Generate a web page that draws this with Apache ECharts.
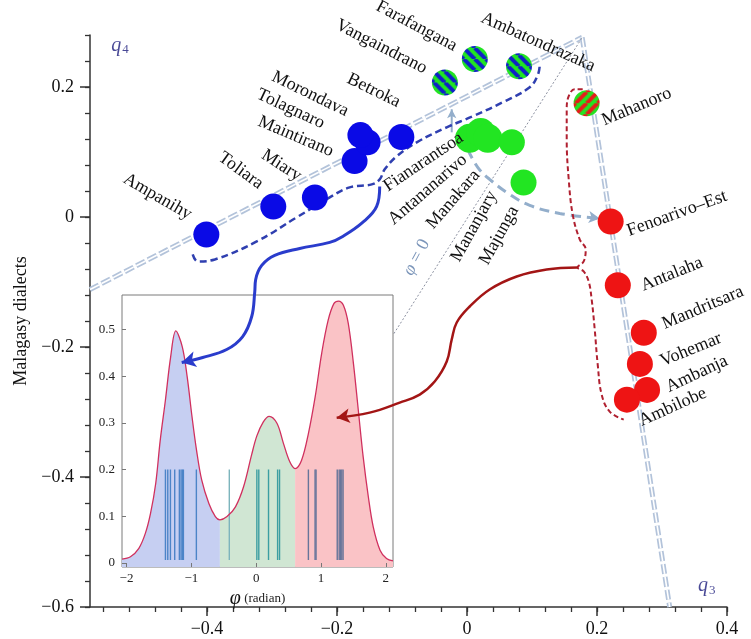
<!DOCTYPE html>
<html><head><meta charset="utf-8">
<script src="https://cdn.jsdelivr.net/npm/echarts@6/dist/echarts.min.js"></script>
<style>html,body{margin:0;padding:0;background:#fff}#c{width:751px;height:639px}</style>
</head><body><div id="c"></div>
<script>
// ---------------- DATA ----------------
const dialects = ['Ampanihy','Toliara','Miary','Maintirano','Tolagnaro','Morondava','Betroka',
  'Fianarantsoa','Antananarivo','Manakara','Mananjary','Majunga',
  'Vangaindrano','Farafangana','Ambatondrazaka','Mahanoro',
  'Fenoarivo–Est','Antalaha','Mandritsara','Vohemar','Ambanja','Ambilobe'];
const dimX = [-0.401,-0.298,-0.234,-0.173,-0.153,-0.164,-0.101,
  0.004,0.021,0.032,0.069,0.087,
  -0.034,0.012,0.080,0.184,
  0.221,0.232,0.272,0.266,0.277,0.246];
const dimY = [-0.027,0.016,0.030,0.086,0.115,0.126,0.123,
  0.121,0.130,0.121,0.115,0.053,
  0.207,0.243,0.232,0.175,
  -0.007,-0.105,-0.178,-0.226,-0.266,-0.281];
const groups = ['W','W','W','W','W','W','W','C','C','C','C','C','WC','WC','WC','EC','E','E','E','E','E','E'];

const xTickLabels = [-0.4,-0.2,0,0.2,0.4];
const yTickLabels = [-0.6,-0.4,-0.2,0,0.2];
const insetXTickLabels = [-2,-1,0,1,2];
const insetYTickLabels = [0,0.1,0.2,0.3,0.4,0.5];

// kernel density of phi
const phiGrid = [-2.07,-1.94,-1.81,-1.71,-1.63,-1.55,-1.48,-1.40,-1.32,-1.24,-1.14,-1.065,-0.99,-0.92,-0.84,-0.73,-0.63,-0.56,
  -0.45,-0.32,-0.195,-0.07,0.01,0.11,0.20,0.32,0.42,0.52,0.60,
  0.70,0.805,0.91,1.01,1.11,1.20,1.27,1.345,1.42,1.50,1.575,1.65,1.73,1.805,1.91,2.01,2.11];
const density = [0.008,0.013,0.031,0.063,0.106,0.170,0.263,0.349,0.441,0.497,0.463,0.399,0.313,0.241,0.177,0.127,0.099,0.092,
  0.099,0.120,0.163,0.232,0.272,0.302,0.314,0.299,0.256,0.216,0.202,
  0.220,0.277,0.356,0.449,0.520,0.556,0.561,0.552,0.513,0.427,0.327,0.227,0.141,0.077,0.027,0.009,0.004];
const westEdge = -0.56, eastEdge = 0.60;
const rugWest = [-1.40,-1.364,-1.323,-1.257,-1.185,-1.159,-1.138,-1.123,-0.923];
const rugCentral = [-0.415,0.01,0.04,0.19,0.33,0.36];
const rugEast = [0.805,0.908,0.923,1.25,1.28,1.30,1.32,1.34];

// axes of the projection and annotation paths (data units)
const q4Axis = [[-0.58,-0.1115],[0.1772,0.2765]];
const q3Axis = [[0.1772,0.2765],[0.3118,-0.6]];
const phiZeroLine = [[0.1765,0.275],[-0.1143,-0.1823]];
const westHull = [[-0.422,-0.0576],[-0.4143,-0.0684],[-0.3881,-0.0653],[-0.3235,-0.0376],[-0.262,-0.0006],[-0.2112,0.0302],
  [-0.1805,0.0456],[-0.1466,0.0502],[-0.1343,0.0579],[-0.1266,0.0733],[-0.1082,0.0934],[-0.0774,0.1149],[-0.0312,0.138],
  [0.0088,0.1549],[0.0549,0.1765],[0.0965,0.1996],[0.1088,0.2181],[0.1118,0.232]];
const westArrow = [[-0.1343,0.0471],[-0.139,0.0163],[-0.1605,-0.0083],[-0.1912,-0.0299],[-0.2112,-0.0391],[-0.2574,-0.0484],
  [-0.2958,-0.0591],[-0.3158,-0.0745],[-0.3251,-0.0961],[-0.3266,-0.1161],[-0.3312,-0.1531],[-0.3451,-0.1839],
  [-0.3697,-0.2039],[-0.4066,-0.2162],[-0.4389,-0.2239]];
const eastBrace = [[0.178,0.1965],[0.1657,0.1965],[0.1565,0.1858],[0.1534,0.1657],[0.1534,0.1195],[0.1565,0.0579],
  [0.1626,0.004],[0.1734,-0.0345],[0.1826,-0.0499],[0.1795,-0.0684],[0.1703,-0.0776],[0.1795,-0.0838],[0.1872,-0.0992],
  [0.1918,-0.1269],[0.1965,-0.1731],[0.2011,-0.227],[0.2072,-0.2732],[0.2195,-0.2994],[0.2411,-0.3117]];
const eastArrow = [[0.1703,-0.0776],[0.1226,-0.0807],[0.0765,-0.0915],[0.0349,-0.1115],[0.0042,-0.1377],[-0.0158,-0.1623],
  [-0.0235,-0.1885],[-0.0312,-0.2224],[-0.0497,-0.2532],[-0.0728,-0.2732],[-0.1035,-0.2856],[-0.1497,-0.301],[-0.2005,-0.3087]];
const rotationArrow = [[0.0011,0.1041],[0.0165,0.0764],[0.0349,0.0579],[0.0657,0.0348],[0.0965,0.0179],[0.1426,0.0055],[0.2042,-0.0022]];
const upArrow = [[-0.0235,0.1303],[-0.0235,0.1657]];
const annotations = [
  {text:'q4', at:[-0.534,0.264]},
  {text:'q3', at:[0.369,-0.5675]},
  {text:'φ = 0', at:[-0.0774,-0.0622]}
];

// ---------------- STYLE / LAYOUT ----------------
const SERIF = '"Liberation Serif","DejaVu Serif",serif';
// [rotate, align, dx, dy]  (dx, dy = screen offset of the label anchor from the marker centre)
const labelLayout = {
  'Ampanihy':[-30,'right',-16,-19], 'Toliara':[-36,'right',-12,-21], 'Miary':[-33,'right',-15,-20],
  'Maintirano':[-23,'right',-22,-9], 'Tolagnaro':[-25,'right',-44,-18], 'Morondava':[-26,'right',-13,-23],
  'Betroka':[-26,'right',-2,-34], 'Fianarantsoa':[34,'right',-8,-2], 'Antananarivo':[41,'right',-16,25],
  'Manakara':[49,'right',-11,34], 'Mananjary':[61,'right',-19,50], 'Majunga':[61,'right',-9,25],
  'Vangaindrano':[-27,'right',-19,-13], 'Farafangana':[-28,'right',-19,-12], 'Ambatondrazaka':[-24,'left',-37,-49],
  'Mahanoro':[23,'left',16,18], 'Fenoarivo–Est':[20,'left',17,10], 'Antalaha':[22,'left',24,1],
  'Mandritsara':[23,'left',19,-8], 'Vohemar':[22,'left',21,-2], 'Ambanja':[25,'left',20,-2], 'Ambilobe':[24,'left',13,22]
};
const annotRotate = {'q4':0, 'q3':0, 'φ = 0':62};
function unrotate(r, dx, dy) {
  const t = r * Math.PI / 180;
  return [dx*Math.cos(t) - dy*Math.sin(t), dx*Math.sin(t) + dy*Math.cos(t)];
}
function stripes(c1, c2, dir, symSize) {
  const s = 11, cv = document.createElement('canvas'); cv.width = s; cv.height = s;
  const g = cv.getContext('2d'); g.fillStyle = c1; g.fillRect(0,0,s,s);
  g.strokeStyle = c2; g.lineWidth = 4;
  for (let k = -1; k <= 1; k++) {
    g.beginPath();
    if (dir > 0) { g.moveTo(k*s, s); g.lineTo(k*s + s, 0); }
    else { g.moveTo(k*s, 0); g.lineTo(k*s + s, s); }
    g.stroke();
  }
  const k = 2 / symSize;
  return {image: cv, repeat: 'repeat', scaleX: k, scaleY: k};
}
const groupColor = {
  W: '#0a0ae6', C: '#22e522', E: '#ee1414',
  WC: stripes('#22e522', '#1020c8', -1, 26), EC: stripes('#22e522', '#e81c1c', 1, 26)
};
const bigSize = {Fianarantsoa:29, Antananarivo:29, Manakara:29};

function fmt(v) { return v === 0 ? '0' : (v < 0 ? '−' : '') + String(Math.abs(v)); }
function steps(a, b, st) { const r = []; for (let i = Math.round(a/st); i <= Math.round(b/st); i++) r.push(+(i*st).toFixed(4)); return r; }

const X0 = -0.58, X1 = 0.4, Y0 = -0.6, Y1 = 0.28;

function curve(pts, o) {
  const data = pts.map(p => ({value: p}));
  if (o.arrow) {
    const a = pts[pts.length-2], b = pts[pts.length-1];
    const ang = Math.atan2((b[1]-a[1]), (b[0]-a[0])) * 180 / Math.PI;
    data[data.length-1] = {value: b, symbol: 'arrow', symbolSize: o.arrow, symbolRotate: ang - 90,
      itemStyle: {color: o.color}};
  }
  return {type:'line', xAxisIndex:0, yAxisIndex:0, data, smooth: o.smooth == null ? 0.4 : o.smooth,
    symbol:'none', showSymbol:true, showAllSymbol:true, silent:true, clip:false, z: o.z || 2,
    lineStyle:{color:o.color, width:o.width, type:o.type || 'solid', cap:'butt'}};
}

const pointData = dialects.map((n,i) => {
  const L = labelLayout[n];
  return {name:n, value:[dimX[i], dimY[i]], symbolSize: bigSize[n] || 26,
    itemStyle:{color: groupColor[groups[i]]},
    label:{show:true, position:'inside', rotate:L[0], align:L[1], verticalAlign:'middle', offset: unrotate(L[0], L[2], L[3])}};
});

function segment(lo, hi) {
  const d = [];
  phiGrid.forEach((p,i) => { if (p >= lo - 1e-9 && p <= hi + 1e-9) d.push([p, density[i]]); });
  return d;
}
const fullDensity = phiGrid.map((p,i) => [p, density[i]]);
const rugData = [].concat(rugWest.map(v=>[v,0]), rugCentral.map((v,i)=>[v, i===0?3:1]), rugEast.map(v=>[v,2]));
const rugColors = ['#4c84c8', '#3c9ea2', '#67759a', '#7db4bc'];

const axisText = {fontFamily: SERIF, fontSize: 18, color: '#111'};

const option = {
  animation: false,
  backgroundColor: '#fff',
  grid: [
    {left: 90, top: 35, width: 637, height: 572},
    {left: 122, top: 295, width: 271, height: 272, show: true, backgroundColor: '#fff', borderColor: '#7a7a7a', borderWidth: 1, z: 5}
  ],
  xAxis: [
    {gridIndex:0, type:'value', position:'bottom', min:X0, max:X1,
      axisLine:{onZero:false, lineStyle:{color:'#333', width:1.5}},
      axisTick:{customValues: xTickLabels, length:9, lineStyle:{color:'#333', width:1.5}},
      axisLabel:{customValues: xTickLabels, formatter: fmt, margin:13, ...axisText},
      splitLine:{show:false}},
    {gridIndex:0, type:'value', position:'bottom', min:X0, max:X1,
      axisLine:{show:false, onZero:false},
      axisTick:{customValues: steps(-0.56, 0.4, 0.04), length:5, lineStyle:{color:'#333', width:1.3}},
      axisLabel:{show:false}, splitLine:{show:false}},
    {gridIndex:1, type:'value', position:'bottom', min:-2.07, max:2.11, z:6,
      axisLine:{show:false, onZero:false},
      axisTick:{customValues: insetXTickLabels, inside:true, length:4, lineStyle:{color:'#777'}},
      axisLabel:{customValues: insetXTickLabels, formatter: fmt, margin:5, fontFamily:SERIF, fontSize:13, color:'#222'},
      splitLine:{show:false},
      name:'{p|φ} {r|(radian)}', nameLocation:'middle', nameGap:22,
      nameTextStyle:{rich:{p:{fontFamily:SERIF, fontStyle:'italic', fontSize:20, color:'#111'},
                           r:{fontFamily:SERIF, fontSize:13, color:'#222'}}}}
  ],
  yAxis: [
    {gridIndex:0, type:'value', position:'left', min:Y0, max:Y1,
      axisLine:{onZero:false, lineStyle:{color:'#333', width:1.5}},
      axisTick:{customValues: yTickLabels, length:10, lineStyle:{color:'#333', width:1.5}},
      axisLabel:{customValues: yTickLabels, formatter: fmt, margin:16, ...axisText},
      splitLine:{show:false},
      name:'Malagasy dialects', nameLocation:'middle', nameGap:58, nameRotate:90,
      nameTextStyle:{fontFamily:SERIF, fontSize:18, color:'#111'}},
    {gridIndex:0, type:'value', position:'left', min:Y0, max:Y1,
      axisLine:{show:false, onZero:false},
      axisTick:{customValues: steps(-0.6, 0.28, 0.04), length:5, lineStyle:{color:'#333', width:1.3}},
      axisLabel:{show:false}, splitLine:{show:false}},
    {gridIndex:1, type:'value', position:'left', min:-0.009, max:0.574, z:6,
      axisLine:{show:false, onZero:false},
      axisTick:{customValues: insetYTickLabels, inside:true, length:4, lineStyle:{color:'#777'}},
      axisLabel:{customValues: insetYTickLabels, formatter: fmt, margin:7, fontFamily:SERIF, fontSize:13, color:'#222'},
      splitLine:{show:false}}
  ],
  series: [
    curve(q4Axis, {color:'#b3c3da', width:5, type:[10,3], smooth:0}),
    curve(q4Axis, {color:'#ffffff', width:1.6, type:[10,3], smooth:0}),
    curve(q3Axis, {color:'#b3c3da', width:5, type:[10,3], smooth:0}),
    curve(q3Axis, {color:'#ffffff', width:1.6, type:[10,3], smooth:0}),
    curve(phiZeroLine, {color:'#8b90a0', width:1, type:[2,2], smooth:0}),
    curve(rotationArrow, {color:'#93aecb', width:3, type:[10,6], arrow:[9,11], smooth:0.4}),
    curve(upArrow, {color:'#93aecb', width:2, smooth:0, arrow:[7,9]}),
    curve(westHull, {color:'#2f3fb0', width:2.5, type:[7,4], smooth:0.4}),
    curve(eastBrace, {color:'#b02030', width:2, type:[5,3], smooth:0.4}),
    {type:'scatter', xAxisIndex:0, yAxisIndex:0, z:3, data: pointData,
      itemStyle:{opacity:1},
      label:{formatter:'{b}', fontFamily:SERIF, fontSize:18, color:'#111'}},
    {type:'scatter', xAxisIndex:0, yAxisIndex:0, z:3, clip:false, symbolSize:1,
      itemStyle:{color:'rgba(0,0,0,0)'},
      data: annotations.map(a => ({name:a.text, value:a.at, label:{rotate: annotRotate[a.text]}})),
      label:{show:true, position:'inside',
        formatter: p => p.name === 'q4' ? '{q|q}{s|4}' : p.name === 'q3' ? '{q|q}{s|3}' : '{f|φ}{g| = 0}',
        rich:{q:{fontFamily:SERIF, fontStyle:'italic', fontSize:20, color:'#1c1c7c'},
              s:{fontFamily:SERIF, fontSize:13, color:'#1c1c7c', padding:[9,0,0,1]},
              f:{fontFamily:SERIF, fontStyle:'italic', fontSize:18, color:'#5a7aa8'},
              g:{fontFamily:SERIF, fontSize:18, color:'#5a7aa8'}}}},
    {type:'line', xAxisIndex:2, yAxisIndex:2, z:6, data: segment(-3, westEdge), smooth:0.35, symbol:'none',
      lineStyle:{width:0}, areaStyle:{color:'#c6cff2', opacity:1, origin:'start'}},
    {type:'line', xAxisIndex:2, yAxisIndex:2, z:6, data: segment(westEdge, eastEdge), smooth:0.35, symbol:'none',
      lineStyle:{width:0}, areaStyle:{color:'#d0e6d3', opacity:1, origin:'start'}},
    {type:'line', xAxisIndex:2, yAxisIndex:2, z:6, data: segment(eastEdge, 3), smooth:0.35, symbol:'none',
      lineStyle:{width:0}, areaStyle:{color:'#fac3c6', opacity:1, origin:'start'}},
    {type:'custom', xAxisIndex:2, yAxisIndex:2, z:7, data: rugData,
      renderItem: (params, api) => {
        const x = api.value(0);
        const a = api.coord([x, 0.006]), b = api.coord([x, 0.2]);
        return {type:'line', shape:{x1:a[0], y1:a[1], x2:b[0], y2:b[1]},
          style:{stroke: rugColors[api.value(1)], lineWidth:1.4}};
      }},
    {type:'line', xAxisIndex:2, yAxisIndex:2, z:8, data: fullDensity, smooth:0.35, symbol:'none',
      lineStyle:{color:'#d0305e', width:1.3}},
    curve(westArrow, {color:'#2a3ccc', width:3, arrow:[12,14], z:12, smooth:0.4}),
    curve(eastArrow, {color:'#a31515', width:2.5, arrow:[11,13], z:12, smooth:0.4})
  ]
};
const chart = echarts.init(document.getElementById('c'));
chart.setOption(option);
</script>
</body></html>
